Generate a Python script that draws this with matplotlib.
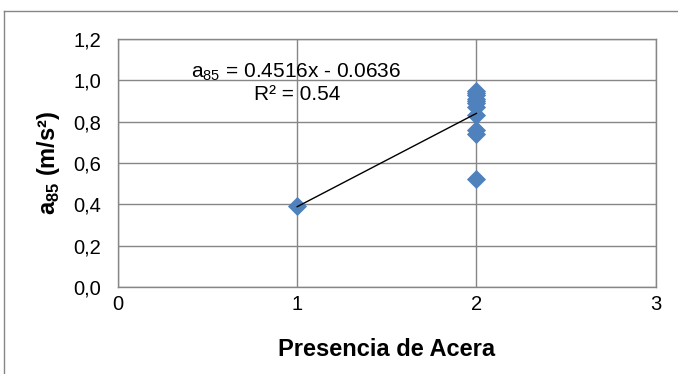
import matplotlib
matplotlib.use('Agg')
import numpy as np
from matplotlib import pyplot as plt
from matplotlib.lines import Line2D

plt.rcParams['font.family'] = ['Liberation Sans', 'DejaVu Sans']
plt.rcParams['mathtext.fontset'] = 'custom'
plt.rcParams['mathtext.rm'] = 'Liberation Sans'
plt.rcParams['mathtext.bf'] = 'Liberation Sans:bold'

# sidewalk presence (1 = no, 2 = yes) vs 85th percentile acceleration
acera = [1, 2, 2, 2, 2, 2, 2, 2, 2, 2, 2, 2]
a85 = [0.39, 0.95, 0.94, 0.93, 0.91, 0.90, 0.89, 0.87, 0.83, 0.76, 0.74, 0.52]

# linear trendline coefficients
pendiente = 0.4516
intercepto = -0.0636
r2 = 0.54

x_ticks = [0, 1, 2, 3]
y_ticks = [0.0, 0.2, 0.4, 0.6, 0.8, 1.0, 1.2]

grey = '#868686'

fig = plt.figure(figsize=(6.78, 3.74), dpi=100)
ax = fig.add_axes([0.174, 0.233, 0.793, 0.663])

# outer chart frame, only left and top edges fall inside the canvas
fx = 3.5 / 678
fy = 1 - 10.5 / 374
fig.add_artist(Line2D([fx, fx], [0, fy], transform=fig.transFigure, color=grey, lw=1.0))
fig.add_artist(Line2D([fx, 1], [fy, fy], transform=fig.transFigure, color=grey, lw=1.0))

ax.scatter(acera, a85, marker='D', s=95, color='#4F81BD', zorder=3, linewidths=0)

xs = np.array([1, 2])
ax.plot(xs, pendiente*xs + intercepto, color='black', linewidth=1.0, zorder=4)

ax.set_xlim(0, 3)
ax.set_ylim(0, 1.2)
ax.set_xticks(x_ticks)
ax.set_yticks(y_ticks)
ax.set_yticklabels(['{:.1f}'.format(v).replace('.', ',') for v in y_ticks])
ax.tick_params(length=0, labelsize=14.5)
ax.tick_params(axis='x', pad=6)
ax.tick_params(axis='y', pad=12)
ax.grid(True, color=grey, linewidth=1.0)
ax.set_axisbelow(True)
for sp in ax.spines.values():
    sp.set_color(grey)
    sp.set_linewidth(1.0)

ax.set_xlabel('Presencia de Acera', fontsize=17, fontweight='bold', labelpad=17)
ax.set_ylabel(r'a$_{\mathbf{85}}$ (m/s²)', fontsize=17, fontweight='bold', labelpad=8)

eq = 'a$_{85}$' + ' = {:.4f}x - {:.4f}'.format(pendiente, -intercepto)
ax.text(0.41, 1.014, eq, fontsize=15, ha='left', va='baseline')
ax.text(1.24, 0.903, 'R² = {:.2f}'.format(r2), fontsize=15, ha='right', va='baseline')

fig.savefig('out.png', dpi=100)
